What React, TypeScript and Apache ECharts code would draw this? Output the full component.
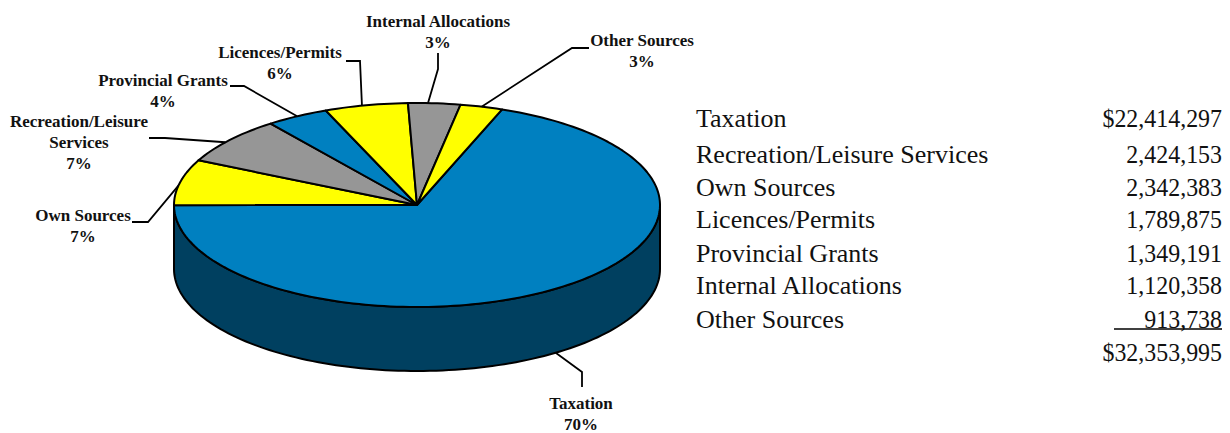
import React, { useEffect, useRef } from "react";
import * as echarts from "echarts";

const categories = ["Taxation", "Own Sources", "Recreation/Leisure\nServices", "Provincial Grants", "Licences/Permits", "Internal Allocations", "Other Sources"];
const values = [22414297, 2342383, 2424153, 1349191, 1789875, 1120358, 913738];
const percents = ["70%", "7%", "7%", "4%", "6%", "3%", "3%"];

const tableNames = ["Taxation", "Recreation/Leisure Services", "Own Sources", "Licences/Permits", "Provincial Grants", "Internal Allocations", "Other Sources", ""];
const tableAmounts = ["$22,414,297", "2,424,153", "2,342,383", "1,789,875", "1,349,191", "1,120,358", "913,738", "$32,353,995"];

const sliceColors = ["#0080C0", "#FFFF00", "#969696", "#0080C0", "#FFFF00", "#969696", "#FFFF00"];
const wallColor = "#004060";
const CX = 417, CY = 205, RX = 243, RY = 102, DEPTH = 64, START_DEG = 20.5;

const labelPos: [number, number][] = [[581, 393], [83, 205], [79, 111], [163, 70], [280, 42], [438, 11], [642, 30]];
const leaderBends: [number, number][][] = [
  [[582, 387], [582, 372]],
  [[132, 222], [148, 222]],
  [[149, 138], [165, 138]],
  [[230, 86], [244, 86]],
  [[346, 61], [360, 61]],
  [[438, 53], [438, 69]],
  [[589, 48], [572, 48]],
];
const leaderAngleShift = [0, -2, -1.5, 0, -1, -1.5, 0];
const tableY = [118, 154, 187, 219, 253, 285, 319, 352];

const total = values.reduce((a, b) => a + b, 0);
const pt = (deg: number, dy = 0): [number, number] => {
  const r = (deg * Math.PI) / 180;
  return [CX + RX * Math.sin(r), CY - RY * Math.cos(r) + dy];
};
const arc = (a: number, b: number, dy = 0) => {
  const n = Math.max(2, Math.ceil((b - a) / 1.5));
  const out: [number, number][] = [];
  for (let i = 0; i <= n; i++) out.push(pt(a + ((b - a) * i) / n, dy));
  return out;
};
const LINE = "#000000";

function renderItem(params: any, api: any) {
  const idx = api.value(1);
  const before = values.slice(0, idx).reduce((a, b) => a + b, 0);
  const a = START_DEG + (before / total) * 360;
  const b = a + (api.value(0) / total) * 360;
  const children: any[] = [];
  const wa = Math.max(a, 90), wb = Math.min(b, 270);
  if (wb > wa) {
    children.push({
      type: "polygon",
      shape: { points: [...arc(wa, wb), ...arc(wa, wb, DEPTH).reverse()] },
      style: { fill: wallColor, stroke: LINE, lineWidth: 2 },
    });
  }
  children.push({
    type: "polygon",
    shape: { points: [[CX, CY], ...arc(a, b)] },
    style: { fill: sliceColors[idx], stroke: LINE, lineWidth: 2, lineJoin: "round" },
  });
  const mid = (a + b) / 2 + leaderAngleShift[idx];
  const wrapped = ((mid % 360) + 360) % 360;
  const anchor = pt(mid, wrapped > 90 && wrapped < 270 ? DEPTH : 0);
  children.push({
    type: "polyline",
    shape: { points: [...leaderBends[idx], anchor] },
    style: { fill: "none", stroke: LINE, lineWidth: 1.8 },
  });
  children.push({
    type: "text",
    style: {
      text: categories[idx] + "\n" + percents[idx],
      x: labelPos[idx][0],
      y: labelPos[idx][1],
      textAlign: "center",
      textVerticalAlign: "top",
      font: 'bold 17px "Liberation Serif"',
      lineHeight: 21,
      fill: "#111111",
    },
  });
  return { type: "group", children };
}

export default function App() {
  const ref = useRef<HTMLDivElement>(null);
  useEffect(() => {
    document.body.style.margin = "0";
    const chart = echarts.init(ref.current!, null, { renderer: "svg" });
    const nameText = tableNames.filter(Boolean).map((name, i) => ({
      type: "text",
      x: 696,
      y: tableY[i],
      style: { text: name, font: '26px "Liberation Serif"', fill: "#111111", textAlign: "left", textVerticalAlign: "middle" },
    }));
    const amountText = tableAmounts.map((amt, i) => ({
      type: "text",
      x: 1222,
      y: tableY[i],
      scaleX: 0.92,
      style: { text: amt, font: '26px "Liberation Serif"', fill: "#111111", textAlign: "right", textVerticalAlign: "middle" },
    }));
    chart.setOption({
      animation: false,
      backgroundColor: "#ffffff",
      series: [
        {
          type: "custom",
          coordinateSystem: "none",
          silent: true,
          clip: false,
          renderItem,
          data: values.map((v, i) => [v, i]),
        },
      ],
      graphic: [
        ...nameText,
        ...amountText,
        { type: "line", shape: { x1: 1114, y1: 329, x2: 1222, y2: 329 }, style: { stroke: "#000000", lineWidth: 1.5 } },
      ],
    });
    return () => chart.dispose();
  }, []);
  return <div ref={ref} style={{ width: 1230, height: 433, position: "absolute", left: 0, top: 0 }} />;
}
